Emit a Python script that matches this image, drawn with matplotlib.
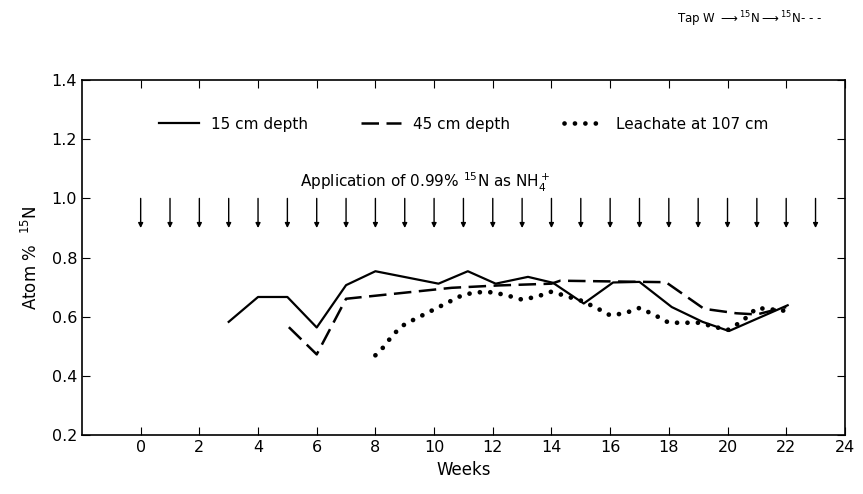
import matplotlib.pyplot as plt
import numpy as np

# weeks at which 15N was applied (arrows)
application_weeks = [0, 1, 2, 3, 4, 5, 6, 7, 8, 9, 10, 11, 12, 13, 14, 15, 16, 17, 18, 19, 20, 21, 22, 23]

# 15 cm depth (solid)
weeks_15 = [3, 4, 5, 6, 7, 8, 10.15, 11.15, 12.1, 13.2, 14.05, 15.1, 16.1, 17.0, 18.1, 19.15, 20.05, 22.05]
atom_15 = [0.583, 0.667, 0.667, 0.564, 0.707, 0.754, 0.712, 0.754, 0.712, 0.735, 0.715, 0.645, 0.716, 0.718, 0.633, 0.583, 0.552, 0.639]

# 45 cm depth (dashed)
weeks_45 = [5.05, 6.0, 7.0, 10.6, 12.2, 14.0, 14.3, 17.9, 19.2, 20.3, 21.0, 22.0]
atom_45 = [0.565, 0.473, 0.661, 0.698, 0.706, 0.712, 0.722, 0.717, 0.627, 0.612, 0.608, 0.633]

# leachate at 107 cm (dotted)
weeks_lea = [8.0, 8.3, 8.6, 9.0, 9.5, 10.0, 10.5, 11.0, 11.5, 12.0, 12.5, 13.0, 13.5, 14.0, 14.5,
             15.0, 15.5, 16.0, 16.5, 17.0, 17.5, 18.0, 18.5, 19.0, 19.5, 20.0, 20.5, 21.0, 21.5, 22.0]
atom_lea = [0.47, 0.50, 0.54, 0.575, 0.60, 0.625, 0.65, 0.675, 0.683, 0.683, 0.672, 0.658, 0.668, 0.685, 0.67,
            0.655, 0.632, 0.605, 0.612, 0.63, 0.607, 0.58, 0.58, 0.58, 0.568, 0.555, 0.585, 0.63, 0.625, 0.62]

plt.rcParams['font.family'] = 'DejaVu Sans'

fig = plt.figure(figsize=(8.63, 4.94), dpi=100)
ax = fig.add_axes([0.095, 0.119, 0.884, 0.719])

ax.plot(weeks_15, atom_15, color='black', lw=1.6, label='15 cm depth')
ax.plot(weeks_45, atom_45, color='black', lw=1.8, linestyle=(0, (7, 3)), label='45 cm depth')
ax.plot(weeks_lea, atom_lea, color='black', lw=3.4, linestyle=(0, (0.01, 2.2)),
        dash_capstyle='round', label='Leachate at 107 cm')

for w in application_weeks:
    ax.annotate('', xy=(w, 0.9), xytext=(w, 1.0),
                arrowprops=dict(arrowstyle='-|>', color='black', lw=1.0,
                                mutation_scale=7, shrinkA=0, shrinkB=0))

ax.text(9.7, 1.053, r'Application of 0.99% $^{15}$N as NH$_4^+$', ha='center', va='center', fontsize=11)

ax.legend(loc='center', bbox_to_anchor=(0.50, 0.876), ncol=3, frameon=False, fontsize=11,
          handlelength=2.6, columnspacing=3.5, handletextpad=0.8)

ax.set_xlim(-2, 24)
ax.set_ylim(0.2, 1.4)
ax.set_xticks(np.arange(0, 25, 2))
ax.set_yticks([0.2, 0.4, 0.6, 0.8, 1.0, 1.2, 1.4])
ax.set_yticklabels(['0.2', '0.4', '0.6', '0.8', '1.0', '1.2', '1.4'])
ax.tick_params(direction='in', length=6, top=True, right=True, labelsize=11.5)
for s in ax.spines.values():
    s.set_linewidth(1.2)

ax.set_xlabel('Weeks', fontsize=12)
ax.set_ylabel(r'Atom %  $^{15}$N', fontsize=12, labelpad=8)

fig.text(0.868, 0.962, r'Tap W $\longrightarrow$$^{15}$N$\longrightarrow$$^{15}$N- - -', ha='center', va='center', fontsize=8.5)

fig.savefig('out.png', dpi=100)
